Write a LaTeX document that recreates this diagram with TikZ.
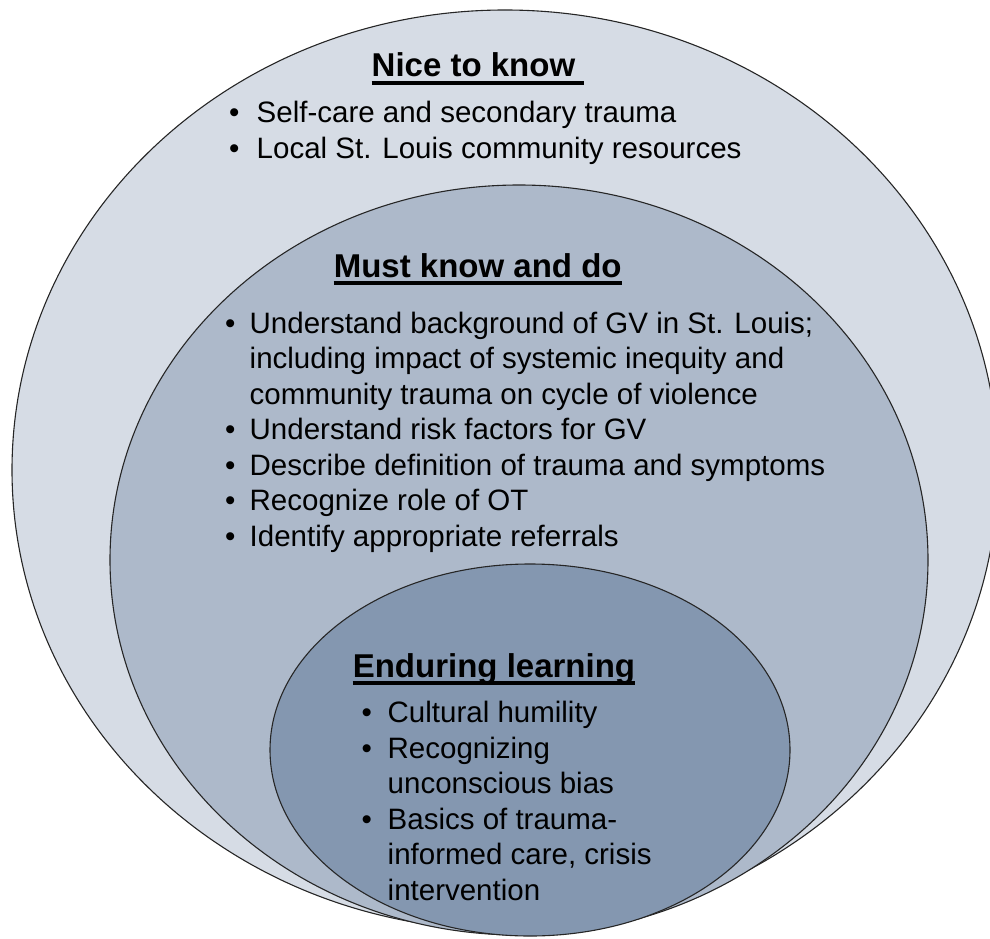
\documentclass[tikz,border=0pt]{standalone}
\usepackage{fontspec}
\setmainfont{Liberation Sans}
\definecolor{outerc}{HTML}{D6DCE5}
\definecolor{midc}{HTML}{ADB9CA}
\definecolor{innerc}{HTML}{8497B0}
\newcommand{\bul}[1]{\makebox[#1][l]{•}}
\begin{document}
\begin{tikzpicture}[x=1pt,y=-1pt,
  ring/.style={draw=black!85, line width=1.1pt},
  title/.style={anchor=base west, inner sep=0pt, font=\bfseries\fontsize{33}{40}\selectfont},
  list/.style={anchor=base west, inner sep=0pt, align=left, font=\fontsize{29.5}{35.5}\selectfont},
  uline/.style={line width=3.3pt}]
\useasboundingbox (0,0) rectangle (990,939);
\clip (0,0) rectangle (990,939);
\path[ring, fill=outerc] (505,470) ellipse [x radius=493pt, y radius=460pt];
\path[ring, fill=midc] (519,560) ellipse [x radius=409pt, y radius=375pt];
\path[ring, fill=innerc] (530,750) ellipse [x radius=260pt, y radius=186pt];
% Nice to know
\node[title] (t1) at (371.5,77) {Nice to know};
\draw[uline] ([yshift=-6pt]t1.base west) -- ([xshift=9pt,yshift=-6pt]t1.base east);
% anchor base = baseline of the last line
\node[list] (l1) at (229,158) {\bul{27.5pt}Self-care and secondary trauma\\
\bul{27.5pt}Local St. Louis community resources};
% Must know and do
\node[title] (t2) at (333.6,277) {Must know and do};
\draw[uline] ([yshift=-6pt]t2.base west) -- ([yshift=-6pt]t2.base east);
\node[list] (l2) at (225,546) {\bul{24.5pt}Understand background of GV in St. Louis;\\
\hspace*{24.5pt}including impact of systemic inequity and\\
\hspace*{24.5pt}community trauma on cycle of violence\\
\bul{24.5pt}Understand risk factors for GV\\
\bul{24.5pt}Describe definition of trauma and symptoms\\
\bul{24.5pt}Recognize role of OT\\
\bul{24.5pt}Identify appropriate referrals};
% Enduring learning
\node[title] (t3) at (352.6,677) {Enduring learning};
\draw[uline] ([yshift=-6pt]t3.base west) -- ([yshift=-6pt]t3.base east);
\node[list] (l3) at (361.5,900) {\bul{26pt}Cultural humility\\
\bul{26pt}Recognizing\\
\hspace*{26pt}unconscious bias\\
\bul{26pt}Basics of trauma-\\
\hspace*{26pt}informed care, crisis\\
\hspace*{26pt}intervention};
\end{tikzpicture}
\end{document}
